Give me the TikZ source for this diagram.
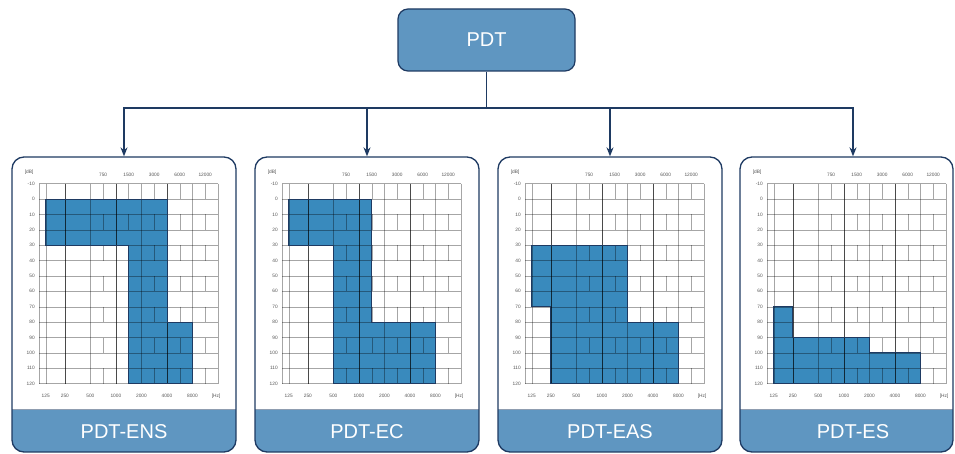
\documentclass[tikz,border=0pt]{standalone}
\usepackage{fontspec}
\setmainfont{Liberation Sans}
\usetikzlibrary{arrows.meta}

\definecolor{navy1}{RGB}{30, 58, 98}
\definecolor{boxblue}{RGB}{95, 150, 193}
\definecolor{areablue}{RGB}{57, 138, 189}
\definecolor{scalegray}{RGB}{85, 85, 85}

\tikzset{
  topbox/.style={draw=navy1, line width=1.2pt, fill=boxblue, rounded corners=10pt,
    minimum width=177pt, minimum height=62pt, text=white, font=\fontsize{20}{24}\selectfont},
  panel/.style={draw=navy1, line width=1.3pt, fill=white, rounded corners=12pt,
    minimum width=224pt, minimum height=295pt, inner sep=0pt,
    path picture={
      \fill[boxblue, sharp corners] ([yshift=43pt]path picture bounding box.south west)
        rectangle (path picture bounding box.south east);
      \draw[navy1!50, line width=0.6pt, sharp corners] ([yshift=43pt]path picture bounding box.south west)
        -- ([yshift=43pt]path picture bounding box.south east);
    }},
  barlabel/.style={text=white, inner sep=0pt, font=\fontsize{20}{24}\selectfont},
  link/.style={draw=navy1, line width=1.4pt},
  gridln/.style={line width=0.35pt, draw=black, draw opacity=0.35},
  gridmaj/.style={line width=0.5pt, draw=black, draw opacity=0.55},
  scalelab/.style={font=\fontsize{4.8}{5}\selectfont, text=scalegray, inner sep=0pt},
  hearing/.style={fill=areablue},
  hearingedge/.style={draw=navy1, line width=0.8pt}
}

% audiogram: #1 = panel node, #2 = outline of the shaded area
\newcommand{\audgrid}[2]{%
  \begin{scope}[shift={(#1.north west)}, xshift=28pt, yshift=-27.3pt, x=12.76pt, y=-15.385pt]
    \fill[hearing] #2 -- cycle;
    \foreach \r in {0,...,13} \draw[gridln] (0,\r) -- (14,\r);
    \foreach \c in {0,0.5,2,4,6,8,10,12,14} \draw[gridln] (\c,0) -- (\c,13);
    \foreach \c in {2,6,10} \draw[gridmaj] (\c,0) -- (\c,13);
    \foreach \c in {5,7,9,11,13}
      \foreach \r in {0,2,...,12} \draw[gridln] (\c,\r) -- (\c,\r+1);
    \draw[hearingedge] #2 -- cycle;
    \foreach \v [count=\r from 0] in {-10,0,...,120}
      \node[scalelab, anchor=east] at (-0.35,\r) {\v};
    \node[scalelab] at (-0.8,-0.72) {[dB]};
    \foreach \c/\f in {5/750,7/1500,9/3000,11/6000,13/12000}
      \node[scalelab] at (\c,-0.6) {\f};
    \foreach \c/\f in {0.5/125,2/250,4/500,6/1000,8/2000,10/4000,12/8000,13.85/[Hz]}
      \node[scalelab] at (\c,13.8) {\f};
  \end{scope}}

\begin{document}
\begin{tikzpicture}[x=1pt, y=-1pt]
  \useasboundingbox (0,0) rectangle (955,454);

  % top node
  \node[topbox] (pdt) at (486.5,40) {PDT};

  % the four panels (the last one is cut narrower)
  \node[panel] (ens) at (124,304.5) {};
  \node[panel] (ec)  at (367,304.5) {};
  \node[panel] (eas) at (610,304.5) {};
  \node[panel, minimum width=213pt] (es) at (846.5,304.5) {};
  \node[barlabel] (ens-lab) at ([yshift=21.5pt]ens.south) {PDT-ENS};
  \node[barlabel] (ec-lab)  at ([yshift=21.5pt]ec.south)  {PDT-EC};
  \node[barlabel] (eas-lab) at ([yshift=21.5pt]eas.south) {PDT-EAS};
  \node[barlabel] (es-lab)  at ([xshift=6.5pt,yshift=21.5pt]es.south) {PDT-ES};

  % audiograms
  \audgrid{ens}{(0.5,1) -- (10,1) -- (10,9) -- (12,9) -- (12,13) -- (7,13) -- (7,4) -- (0.5,4)}
  \audgrid{ec}{(0.5,1) -- (7,1) -- (7,9) -- (12,9) -- (12,13) -- (4,13) -- (4,4) -- (0.5,4)}
  \audgrid{eas}{(0.5,4) -- (8,4) -- (8,9) -- (12,9) -- (12,13) -- (2,13) -- (2,8) -- (0.5,8)}
  \audgrid{es}{(0.5,8) -- (2,8) -- (2,10) -- (8,10) -- (8,11) -- (12,11) -- (12,13) -- (0.5,13)}

  % connectors
  \coordinate (es-in) at ([xshift=6.5pt]es.north);
  \coordinate (busL) at (ens.north |- 0,108);
  \coordinate (busR) at (es-in |- 0,108);
  \draw[link] (pdt.south) -- (pdt.south |- busL);
  \draw[link, line cap=rect] (busL) -- (busR);
  \foreach \p in {ens.north,ec.north,eas.north,es-in}
    \draw[link, -{Stealth[length=9pt,width=7pt]}] (\p |- busL) -- (\p);
\end{tikzpicture}
\end{document}
